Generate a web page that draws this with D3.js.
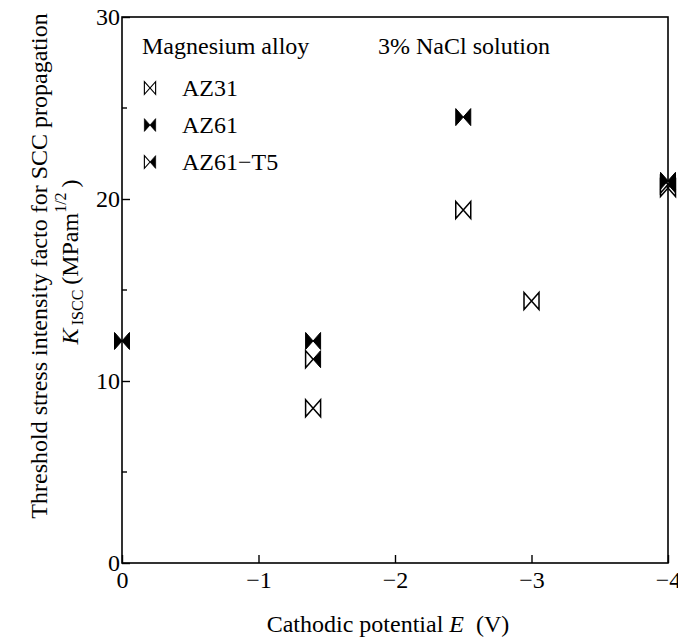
<!DOCTYPE html>
<html>
<head>
<meta charset="utf-8">
<script src="https://cdn.jsdelivr.net/npm/d3@7"></script>
<style>
  body { margin: 0; background: #fff; }
  svg, svg text, svg tspan { font-family: "Liberation Serif", "Times New Roman", Times, serif !important; }
  svg text { fill: #000; }
</style>
</head>
<body>
<div id="chart"></div>
<script>
// DATA
const seriesNames = ["AZ31", "AZ61", "AZ61\u2212T5"];
const az31 = [[-1.4, 8.5], [-2.5, 19.4], [-3.0, 14.4], [-4.0, 20.6]];
const az61 = [[0, 12.2], [-1.4, 12.2], [-2.5, 24.5], [-4.0, 21.0]];
const az61t5 = [[-1.4, 11.2], [-4.0, 20.8]];
const xTicks = [0, -1, -2, -3, -4];
const yTicks = [0, 10, 20, 30];
const yMinorTicks = [5, 15, 25];

// CONFIG
const width = 678, height = 640;
const margin = {left: 122, right: 10, top: 17, bottom: 77};
const mw = 7.5, mh = 8.5;   // demi-largeur / demi-hauteur du marqueur
const fs = 24;              // taille de police
const serif = '"Liberation Serif", "Times New Roman", Times, serif';

const svg = d3.select("#chart").append("svg")
    .attr("width", width)
    .attr("height", height)
    .attr("font-family", serif);

const x = d3.scaleLinear().domain([0, -4]).range([margin.left, width - margin.right]);
const y = d3.scaleLinear().domain([0, 30]).range([height - margin.bottom, margin.top]);

// Cadre
svg.append("rect")
    .attr("x", x(0)).attr("y", y(30))
    .attr("width", x(-4) - x(0)).attr("height", y(0) - y(30))
    .attr("fill", "none").attr("stroke", "#000").attr("stroke-width", 1.6);

// Axe X (ticks vers l'intérieur)
const xAxis = svg.append("g")
    .attr("transform", `translate(0,${y(0)})`)
    .call(d3.axisBottom(x).tickValues(xTicks).tickSizeInner(-8).tickSizeOuter(0)
        .tickFormat(d => d === 0 ? "0" : "\u2212" + Math.abs(d)));
xAxis.attr("font-family", serif).attr("font-size", fs);
xAxis.select(".domain").remove();
xAxis.selectAll(".tick line").attr("stroke", "#000").attr("stroke-width", 1.4);
xAxis.selectAll(".tick text").attr("y", 0).attr("dy", "1.05em");

// Axe Y
const yAxis = svg.append("g")
    .attr("transform", `translate(${x(0)},0)`)
    .call(d3.axisLeft(y).tickValues(yTicks).tickSizeInner(-8).tickSizeOuter(0));
yAxis.attr("font-family", serif).attr("font-size", fs);
yAxis.select(".domain").remove();
yAxis.selectAll(".tick line").attr("stroke", "#000").attr("stroke-width", 1.4);
yAxis.selectAll(".tick text").attr("x", -2);

svg.append("g").selectAll("line")
    .data(yMinorTicks).join("line")
    .attr("x1", x(0)).attr("x2", x(0) + 5)
    .attr("y1", d => y(d)).attr("y2", d => y(d))
    .attr("stroke", "#000").attr("stroke-width", 1.4);

// Titres des axes
svg.append("text")
    .attr("x", 388).attr("y", 632)
    .attr("text-anchor", "middle").attr("font-size", fs)
    .html('Cathodic potential <tspan font-style="italic">E</tspan>\u00a0 (V)');

svg.append("text")
    .attr("transform", "translate(47,266) rotate(-90)")
    .attr("text-anchor", "middle").attr("font-size", fs)
    .text("Threshold stress intensity facto for SCC propagation");
svg.append("text")
    .attr("transform", "translate(78,262) rotate(-90)")
    .attr("text-anchor", "middle").attr("font-size", fs)
    .html('<tspan font-style="italic">K</tspan><tspan font-size="16" dy="5">\u2009ISCC</tspan>' +
          '<tspan dy="-5">\u2009(MPam</tspan><tspan font-size="16" dy="-12">1/2</tspan><tspan dy="12">\u2009)</tspan>');

// Marqueurs (noeud papillon)
function drawMarker(g, kind) {
    if (kind === 0) {
        g.append("path")
            .attr("d", `M${-mw},${-mh}L${mw},${mh}L${mw},${-mh}L${-mw},${mh}Z`)
            .attr("fill", "#fff").attr("stroke", "#000").attr("stroke-width", 1.5);
    } else if (kind === 1) {
        g.append("path")
            .attr("d", `M${-mw},${-mh}L${mw},${mh}L${mw},${-mh}L${-mw},${mh}Z`)
            .attr("fill", "#000").attr("stroke", "#000").attr("stroke-width", 1);
    } else {
        g.append("path")
            .attr("d", `M${-mw},${-mh}L0,0L${-mw},${mh}Z`)
            .attr("fill", "#fff").attr("stroke", "#000").attr("stroke-width", 1.5);
        g.append("path")
            .attr("d", `M${mw},${-mh}L0,0L${mw},${mh}Z`)
            .attr("fill", "#000").attr("stroke", "#000").attr("stroke-width", 1);
    }
}

const allSeries = [az31, az61t5, az61];
const kinds = [0, 2, 1];
allSeries.forEach((s, i) => {
    svg.append("g").selectAll("g")
        .data(s).join("g")
        .attr("transform", d => `translate(${x(d[0])},${y(d[1])})`)
        .each(function() { drawMarker(d3.select(this), kinds[i]); });
});

// Légende
const leg = svg.append("g").attr("font-size", fs);
leg.append("text").attr("x", 142).attr("y", 54).text("Magnesium alloy");
leg.append("text").attr("x", 378).attr("y", 54).text("3% NaCl solution");
seriesNames.forEach((name, i) => {
    const ly = 88 + i * 37;
    const g = leg.append("g").attr("transform", `translate(150,${ly})`);
    drawMarker(g.append("g").attr("transform", "scale(0.75)"), i);
    leg.append("text").attr("x", 182).attr("y", ly + 8).text(name);
});
</script>
</body>
</html>
